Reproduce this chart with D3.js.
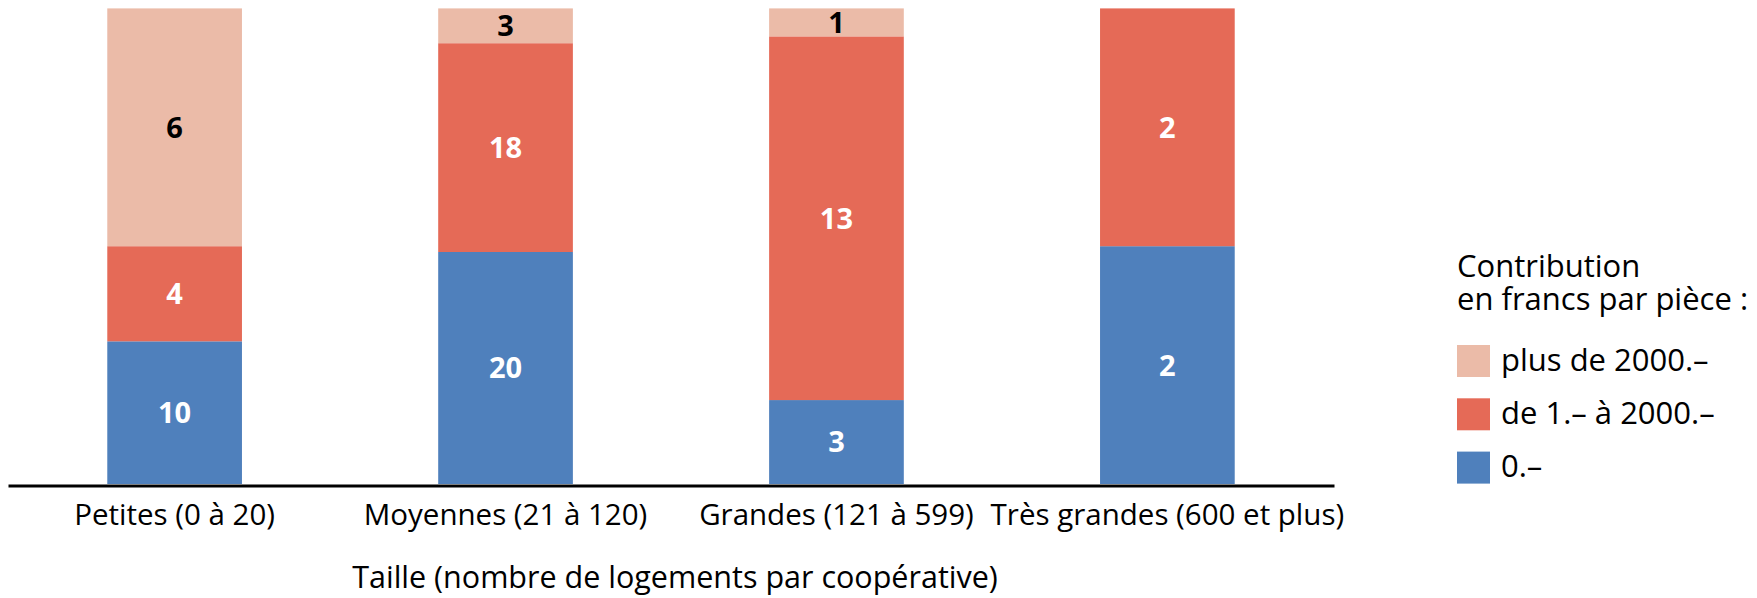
<!DOCTYPE html>
<html>
<head>
<meta charset="utf-8">
<script src="https://cdn.jsdelivr.net/npm/d3@7"></script>
<style>
  html, body { margin: 0; padding: 0; background: #ffffff; }
  svg { display: block; }
  text { font-family: "Open Sans", "Noto Sans", sans-serif; }
</style>
</head>
<body>
<svg id="chart" width="1757" height="598"></svg>
<script>
// ---- data ----
const categories = ["Petites (0 à 20)", "Moyennes (21 à 120)", "Grandes (121 à 599)", "Très grandes (600 et plus)"];
const seriesKeys = ["zero", "low", "high"];
const seriesNames = ["0.–", "de 1.– à 2000.–", "plus de 2000.–"];
// segment sizes as drawn in the picture (each bar is stacked to 100 %)
const zeroValues = [6, 20, 3, 2];
const lowValues  = [4, 18, 13, 2];
const highValues = [10, 3, 1, 0];
// numbers printed inside the segments
const zeroLabels = ["10", "20", "3", "2"];
const lowLabels  = ["4", "18", "13", "2"];
const highLabels = ["6", "3", "1", ""];
const legendTitle = ["Contribution", "en francs par pièce :"];
const xTitle = "Taille (nombre de logements par coopérative)";

// ---- style ----
const colors = { zero: "#4f80bc", low: "#e56a57", high: "#ebbba8" };
const labelColors = { zero: "#ffffff", low: "#ffffff", high: "#000000" };
const tickFont = 29.5;
const titleFont = 30.5;
const legendFont = 31;

const svg = d3.select("#chart");

const rows = categories.map((c, i) => ({
  cat: c, zero: zeroValues[i], low: lowValues[i], high: highValues[i]
}));
const labelsBy = { zero: zeroLabels, low: lowLabels, high: highLabels };

const stack = d3.stack().keys(seriesKeys).offset(d3.stackOffsetExpand);
const stacked = stack(rows);

const x = d3.scaleBand().domain(categories).range([8, 1334]).paddingInner(0.593).paddingOuter(0.3);
const y = d3.scaleLinear().domain([0, 1]).range([484, 8.4]);

const g = svg.append("g");

stacked.forEach(layer => {
  const key = layer.key;
  g.selectAll(null).data(layer).enter().append("rect")
    .attr("x", d => x(d.data.cat))
    .attr("width", x.bandwidth())
    .attr("y", d => y(d[1]))
    .attr("height", d => y(d[0]) - y(d[1]))
    .attr("fill", colors[key]);

  g.selectAll(null).data(layer).enter().append("text")
    .attr("x", d => x(d.data.cat) + x.bandwidth() / 2)
    .attr("y", d => (y(d[0]) + y(d[1])) / 2)
    .attr("dy", "0.36em")
    .attr("text-anchor", "middle")
    .attr("font-weight", "bold")
    .attr("font-size", 29)
    .attr("fill", labelColors[key])
    .text((d, i) => labelsBy[key][i]);
});

// x axis
const axis = d3.axisBottom(x).tickSize(0).tickSizeOuter(0).tickPadding(18.5);
const ax = svg.append("g").attr("transform", "translate(0,485.5)").call(axis);
ax.select(".domain").attr("stroke", "#000").attr("stroke-width", 3);
ax.selectAll(".tick text")
  .attr("font-size", tickFont)
  .attr("font-family", "'Open Sans', 'Noto Sans', sans-serif")
  .attr("fill", "#000");

svg.append("text")
  .attr("x", 675)
  .attr("y", 588)
  .attr("text-anchor", "middle")
  .attr("font-size", titleFont)
  .attr("fill", "#000")
  .text(xTitle);

// legend
const lg = svg.append("g").attr("transform", "translate(1457,0)");
const lt = lg.append("text")
  .attr("x", 0)
  .attr("y", 277)
  .attr("font-size", legendFont)
  .attr("fill", "#000");
lt.selectAll("tspan").data(legendTitle).enter().append("tspan")
  .attr("x", 0)
  .attr("dy", (d, i) => i === 0 ? 0 : 33)
  .text(d => d);

const legendOrder = ["high", "low", "zero"];
const legendItems = legendOrder.map(k => ({ key: k, name: seriesNames[seriesKeys.indexOf(k)] }));
const li = lg.selectAll(null).data(legendItems).enter().append("g")
  .attr("transform", (d, i) => `translate(0,${345 + i * 53.3})`);
li.append("rect").attr("width", 33).attr("height", 32).attr("fill", d => colors[d.key]);
li.append("text")
  .attr("x", 44)
  .attr("y", 25.5)
  .attr("font-size", legendFont)
  .attr("fill", "#000")
  .text(d => d.name);
</script>
</body>
</html>
